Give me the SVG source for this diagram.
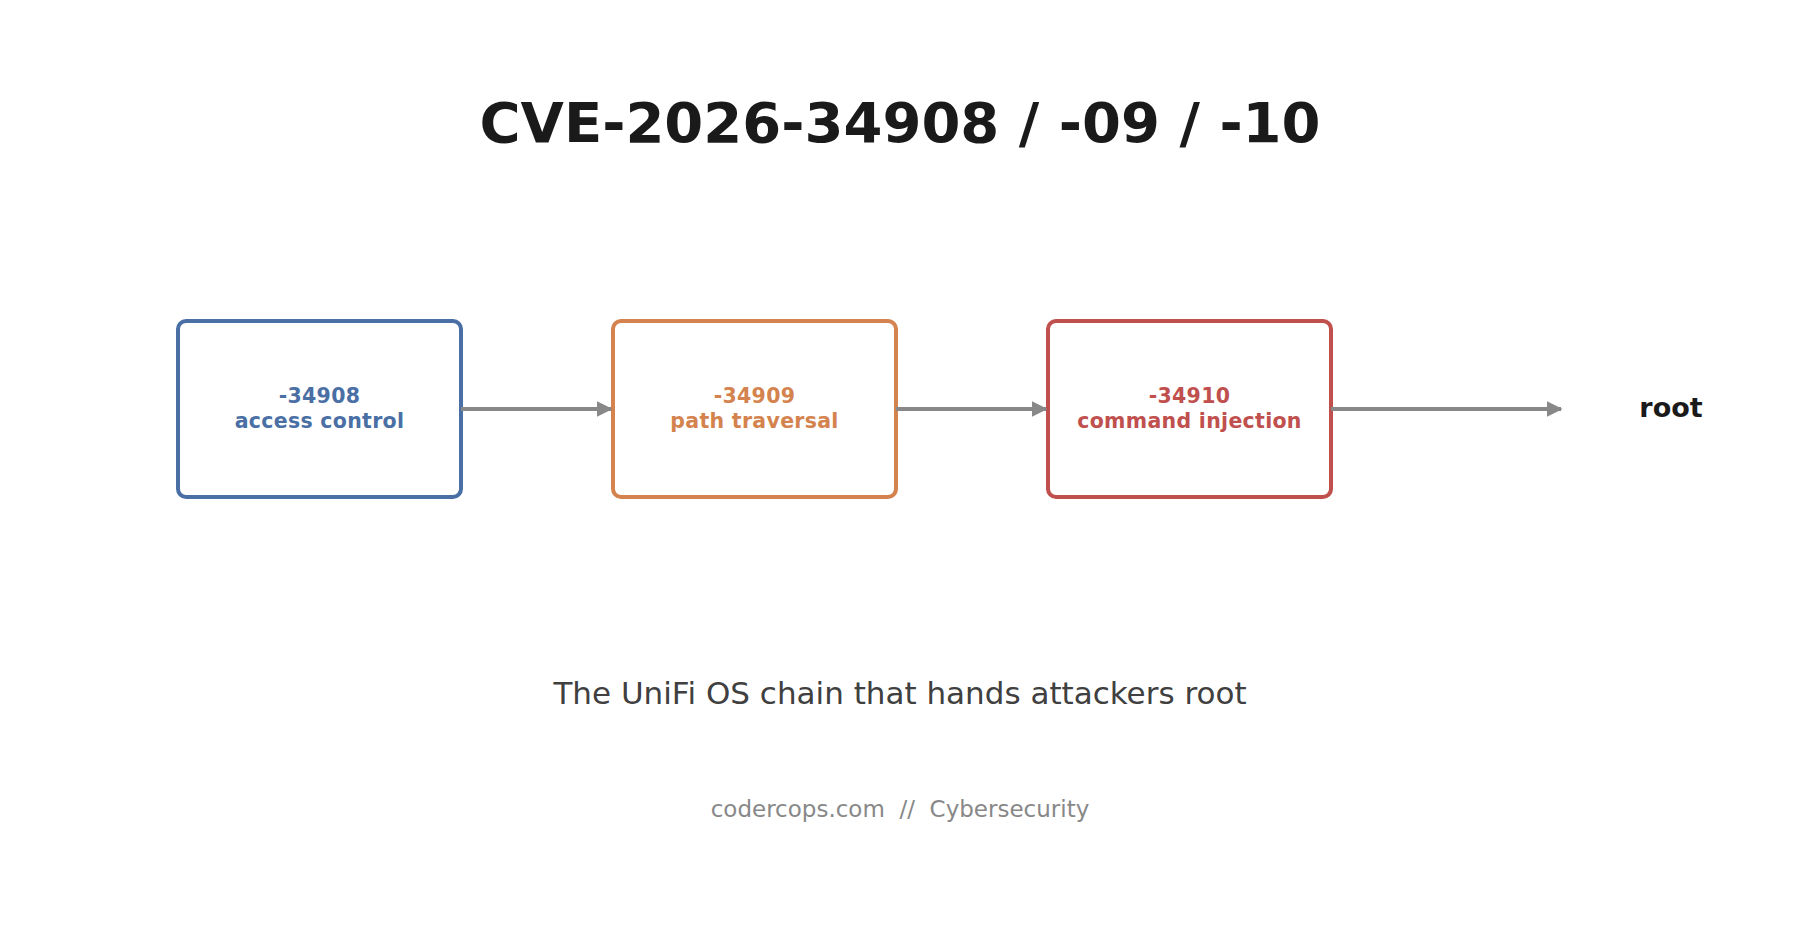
<svg xmlns="http://www.w3.org/2000/svg" width="1800" height="945" viewBox="0 0 1800 945">
<style>
text{font-family:"DejaVu Sans","Liberation Sans",sans-serif;text-anchor:middle}
.box{fill:#fff;stroke-width:4}
.lbl{font-size:20.5px;font-weight:bold;letter-spacing:0.3px}
.c{stroke:#888;stroke-width:3.8;fill:none;marker-end:url(#ah)}
</style>
<defs><marker id="ah" viewBox="0 0 10 10" refX="9" refY="5" markerWidth="4.2" markerHeight="4.2" orient="auto"><path d="M0,0L10,5L0,10z" fill="#888"/></marker></defs>
<rect width="1800" height="945" fill="#fff"/>
<text x="900" y="142" font-size="56" font-weight="bold" fill="#1a1a1a">CVE-2026-34908 / -09 / -10</text>
<g id="n1"><rect class="box" x="178" y="321" width="283" height="176" rx="8" stroke="#4a6fa5"/><text class="lbl" x="319.5" y="403" fill="#4a6fa5">-34908</text><text class="lbl" x="319.5" y="428" fill="#4a6fa5">access control</text></g>
<g id="n2"><rect class="box" x="613" y="321" width="283" height="176" rx="8" stroke="#d4834f"/><text class="lbl" x="754.5" y="403" fill="#d4834f">-34909</text><text class="lbl" x="754.5" y="428" fill="#d4834f">path traversal</text></g>
<g id="n3"><rect class="box" x="1048" y="321" width="283" height="176" rx="8" stroke="#c0504d"/><text class="lbl" x="1189.5" y="403" fill="#c0504d">-34910</text><text class="lbl" x="1189.5" y="428" fill="#c0504d">command injection</text></g>
<g id="n4"><text x="1671" y="417" font-size="27" font-weight="bold" fill="#1a1a1a">root</text></g>
<g id="connectors">
<line class="c" x1="461" y1="409" x2="611" y2="409"/>
<line class="c" x1="896" y1="409" x2="1046" y2="409"/>
<line class="c" x1="1331" y1="409" x2="1561" y2="409"/>
</g>
<text x="900" y="704" font-size="31" fill="#404040">The UniFi OS chain that hands attackers root</text>
<text x="900" y="817" font-size="23" fill="#888" xml:space="preserve" style="white-space:pre">codercops.com  //  Cybersecurity</text>
</svg>
